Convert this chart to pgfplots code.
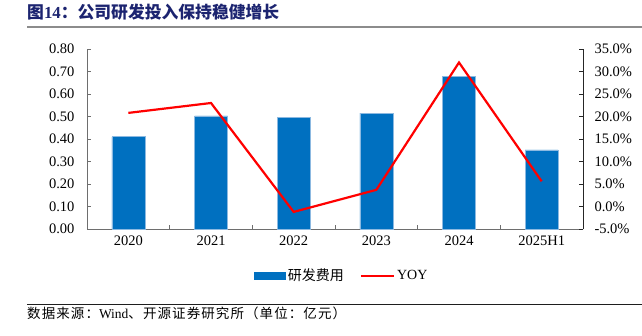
\documentclass[border=0pt]{standalone}
\usepackage{pgfplots}
\pgfplotsset{compat=1.18}
\usepackage{fontspec}
\setmainfont{Liberation Serif}
\newfontfamily\cjk{Noto Sans CJK SC}
\newfontfamily\cjksp[LetterSpace=8]{Noto Sans CJK SC}
\definecolor{barblue}{RGB}{0,112,192}
\definecolor{baredge}{RGB}{140,185,225}
\definecolor{titleblue}{RGB}{28,36,112}
\definecolor{axgray}{RGB}{110,110,110}
\begin{document}
\begin{tikzpicture}
\path[use as bounding box] (0pt,0pt) rectangle (642pt,335pt);
% title
\node[anchor=west, inner sep=0pt, text=titleblue, font=\fontsize{16.8}{18}\selectfont] at (27pt,322.5pt)
  {{\cjk\bfseries 图}\textbf{14}{\cjk\bfseries ：公司研发投入保持稳健增长}};
\draw[line width=2pt, color={rgb,255:red,140;green,140;blue,140}] (27pt,308pt) -- (642pt,308pt);
% source
\draw[line width=0.9pt, color={rgb,255:red,30;green,30;blue,30}] (27pt,31pt) -- (642pt,31pt);
\node[anchor=west, inner sep=0pt, font=\fontsize{13.5}{15}\selectfont] at (27pt,21.5pt)
  {{\cjksp 数据来源：}Wind{\cjksp 、开源证券研究所（单位：亿元）}};

\begin{axis}[
  at={(87pt,106pt)}, anchor=south west,
  scale only axis, width=496pt, height=180pt,
  xmin=-0.5, xmax=5.5, ymin=0, ymax=0.8,
  axis x line*=bottom, axis y line*=left,
  x axis line style={-, color=axgray, line width=0.9pt},
  y axis line style={-, color=axgray, line width=0.9pt},
  xtick={0,1,2,3,4,5},
  xticklabels={2020,2021,2022,2023,2024,2025H1},
  major x tick style={draw=none},
  minor xtick={0.5,1.5,2.5,3.5,4.5},
  minor tick length=4pt,
  minor x tick style={color=axgray, line width=0.8pt},
  ytick={0,0.1,...,0.8},
  major tick length=4pt,
  y tick style={color=axgray, line width=0.8pt},
  tick align=inside,
  ticklabel style={font=\fontsize{14.5}{16}\selectfont},
  xticklabel style={yshift=-3pt},
  yticklabel style={xshift=-9pt, /pgf/number format/.cd, fixed, fixed zerofill, precision=2, assume math mode=true},
  /pgf/number format/assume math mode=true,
  clip=false,
]
\addplot[ybar, bar width=33pt, fill=barblue, draw=baredge, line width=0.6pt]
  coordinates {(0,0.41) (1,0.503) (2,0.497) (3,0.515) (4,0.678) (5,0.352)};
\end{axis}

\begin{axis}[
  at={(87pt,106pt)}, anchor=south west,
  scale only axis, width=496pt, height=180pt,
  xmin=-0.5, xmax=5.5, ymin=-5, ymax=35,
  axis x line=none, axis y line*=right,
  y axis line style={-, color=black!85, line width=0.9pt},
  ytick={-5,0,5,10,15,20,25,30,35},
  major tick length=4pt,
  y tick style={color=black!85, line width=0.8pt},
  tick align=inside,
  ticklabel style={font=\fontsize{14.5}{16}\selectfont},
  yticklabel={\pgfmathprintnumber[fixed, fixed zerofill, precision=1, assume math mode=true]{\tick}\%},
  yticklabel style={xshift=8pt},
  legend style={at={(0.514,-0.259)}, anchor=center, draw=none, fill=none,
    font=\fontsize{14}{16}\selectfont, legend columns=2,
    /tikz/every even column/.append style={column sep=14pt}},
  legend cell align=left,
  clip=false,
]
\addlegendimage{legend image code/.code={\fill[barblue] (0pt,-3.5pt) rectangle (31pt,3.5pt);}}
\addlegendentry{{\cjk 研发费用}}
\addplot[color=red, line width=2.2pt, line join=miter, no marks,
  legend image code/.code={\draw[red, line width=2.2pt] (0pt,0pt) -- (33pt,0pt);}]
  coordinates {(0,20.8) (1,23.0) (2,-1.2) (3,3.7) (4,32.0) (5,5.6)};
\addlegendentry{YOY}
\end{axis}
\end{tikzpicture}
\end{document}
